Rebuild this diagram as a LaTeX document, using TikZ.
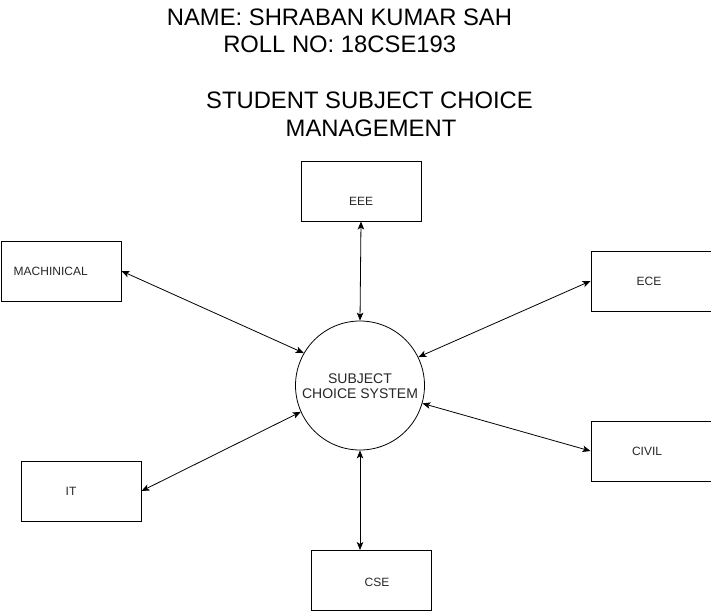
\documentclass[tikz,border=0pt]{standalone}
\usepackage{fontspec}
\setmainfont{Liberation Sans}
\usetikzlibrary{arrows.meta}
\begin{document}
\begin{tikzpicture}[x=1pt,y=-1pt,
  box/.style={draw=black,line width=1pt,minimum width=120pt,minimum height=60pt,inner sep=0pt,anchor=north west},
  sys/.style={draw=black,line width=0.8pt,circle,minimum size=129pt,inner sep=0pt},
  lbl/.style={anchor=base,inner sep=0pt,font=\fontsize{12}{14}\selectfont,text=black!85},
  clbl/.style={anchor=base,inner sep=0pt,font=\fontsize{14}{16}\selectfont,text=black!85},
  ttl/.style={anchor=base,inner sep=0pt,font=\fontsize{23.8}{28}\selectfont},
  link/.style={line width=0.8pt,{Stealth[length=8pt,width=6.5pt,inset=2pt]}-{Stealth[length=8pt,width=6.5pt,inset=2pt]}}
]
\useasboundingbox (0,0) rectangle (711,611);
% titles
\node[ttl] (t1) at (339.5,25.3) {NAME: SHRABAN KUMAR SAH};
\node[ttl] (t2) at (339.7,52.7) {ROLL NO: 18CSE193};
\node[ttl] (t3) at (369.5,108.7) {STUDENT SUBJECT CHOICE};
\node[ttl] (t4) at (371,136.7) {MANAGEMENT};
% boxes
\node[box] (eee) at (300.5,160.5) {};
\node[box] (mach) at (0.5,240.5) {};
\node[box] (ece) at (590.5,250.5) {};
\node[box] (civil) at (590.5,420.5) {};
\node[box] (it) at (20.5,460.5) {};
\node[box] (cse) at (310.5,550) {};
% labels
\node[lbl] (leee) at (361,205) {EEE};
\node[lbl,anchor=base west] (lmach) at (13.5,275) {MACHINICAL};
\node[lbl] (lece) at (649,285) {ECE};
\node[lbl] (lcivil) at (647,455) {CIVIL};
\node[lbl] (lit) at (71,495.5) {IT};
\node[lbl] (lcse) at (377,586) {CSE};
% central circle
\node[sys] (sys) at (360,385.5) {};
\node[clbl] (s1) at (360,383.3) {SUBJECT};
\node[clbl] (s2) at (360,398.3) {CHOICE SYSTEM};
% connectors
\draw[link] (eee.south) -- (sys.north);
\draw[link] (mach.east) -- (sys.150.6);
\draw[link] (ece.west) -- (sys.26.3);
\draw[link] (civil.west) -- (sys.-16.1);
\draw[link] (it.east) -- (sys.204.9);
\draw[link] (sys.south) -- (sys.south |- cse.north);
\end{tikzpicture}
\end{document}
